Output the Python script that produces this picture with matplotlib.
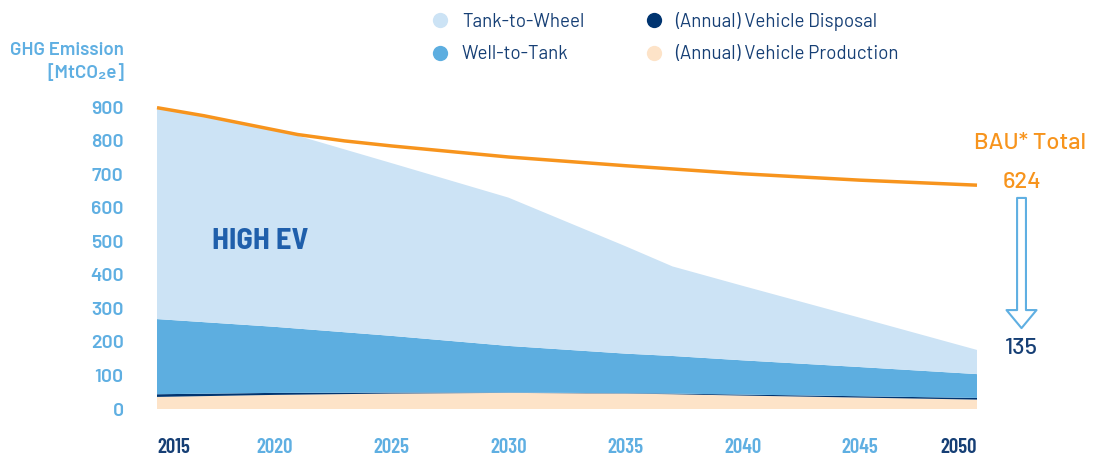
import matplotlib
matplotlib.use("Agg")
import matplotlib.pyplot as plt
from matplotlib.lines import Line2D

# stacked layers (MtCO2e)
years = [2015, 2020, 2025, 2030, 2035, 2037, 2040, 2045, 2050]
production = [36, 42, 46, 48, 46, 44, 40, 34, 28]
disposal = [8, 6, 3, 1, 1, 2, 3, 4, 5]
well_to_tank = [224, 197, 169, 139, 118, 112, 102, 87, 71]
tank_to_wheel = [632, 590, 515, 442, 320, 267, 222, 147, 72]

# business as usual total
bau_years = [2015, 2017, 2019, 2021, 2023, 2025, 2030, 2035, 2040, 2045, 2050]
bau_total = [898, 874, 846, 818, 799, 784, 751, 725, 701, 682, 667]

tick_years = [2015, 2020, 2025, 2030, 2035, 2040, 2045, 2050]
y_ticks = [0, 100, 200, 300, 400, 500, 600, 700, 800, 900]

c_ttw = '#cce3f5'
c_wtt = '#5daee0'
c_disp = '#003470'
c_prod = '#fde3c8'
c_bau = '#f7941d'
navy = '#163f75'
light = '#5fafe2'

FONT = ['Barlow', 'Liberation Sans', 'DejaVu Sans']
COND = ['Barlow Condensed', 'Liberation Sans', 'DejaVu Sans']
SEMI = ['Barlow Semi Condensed', 'Barlow', 'DejaVu Sans']

fig = plt.figure(figsize=(11.01, 4.57), dpi=100)
ax = fig.add_axes([157/1101, 48/457, 820/1101, 302/457])

ax.stackplot(years, production, disposal, well_to_tank, tank_to_wheel,
             colors=[c_prod, c_disp, c_wtt, c_ttw], linewidth=0)
ax.plot(bau_years, bau_total, color=c_bau, lw=2.5, clip_on=False,
        solid_capstyle='butt')

ax.set_xlim(2015, 2050)
ax.set_ylim(0, 900)
for s in ax.spines.values():
    s.set_visible(False)

ax.set_yticks(y_ticks)
ax.set_yticklabels([str(v) for v in y_ticks], family=FONT, fontweight='semibold',
                   fontsize=14, color=light)
ax.tick_params(axis='y', length=0, pad=24)

ax.set_xticks(tick_years)
ax.set_xticklabels([str(y) for y in tick_years], family=COND,
                   fontweight='semibold', fontsize=15)
ax.tick_params(axis='x', length=0, pad=21)
xl = ax.get_xticklabels()
for i, t in enumerate(xl):
    t.set_color(navy if i in (0, len(xl) - 1) else light)
xl[0].set_ha('left')
xl[-1].set_ha('right')

ax.text(2017.35, 498, 'HIGH EV', family=SEMI, fontweight='bold',
        fontsize=22, color='#1f5fab', va='center', ha='left')

fig.text(124/1101, 1 - 62/457, 'GHG Emission\n[MtCO\u2082e]', family=FONT,
         fontweight='semibold', fontsize=13.5, color=light, ha='right',
         va='center', multialignment='right', linespacing=1.35)

# BAU annotation and reduction arrow
ax.text(2052.26, 793, 'BAU* Total', family=FONT, fontweight='medium',
        fontsize=17, color=c_bau, ha='center', va='center', clip_on=False)
ax.text(2051.9, 676, '624', family=FONT, fontweight='medium', fontsize=17,
        color=c_bau, ha='center', va='center', clip_on=False)
ax.text(2051.9, 182, '135', family=FONT, fontweight='medium', fontsize=17,
        color=navy, ha='center', va='center', clip_on=False)
ax.annotate('', xy=(2051.9, 241), xytext=(2051.9, 629),
            arrowprops=dict(arrowstyle='simple,head_length=0.65,head_width=1.08,tail_width=0.32',
                            fc='white', ec=light, lw=1.5, shrinkA=0, shrinkB=0,
                            mutation_scale=20),
            annotation_clip=False)

handles = [Line2D([], [], ls='', marker='o', ms=11, mec='none', mfc=c)
           for c in [c_ttw, c_wtt, c_disp, c_prod]]
labels = ['Tank-to-Wheel', 'Well-to-Tank', '(Annual) Vehicle Disposal',
          '(Annual) Vehicle Production']
leg = fig.legend(handles, labels, ncol=2, loc='upper left',
                 bbox_to_anchor=(431/1101, 1 - 12/457), frameon=False,
                 borderpad=0, borderaxespad=0, handlelength=1.0,
                 handletextpad=0.65, columnspacing=3.2, labelspacing=0.75,
                 prop={'family': FONT, 'size': 13.5})
for t in leg.get_texts():
    t.set_color(navy)

fig.savefig('out.png', dpi=100)
